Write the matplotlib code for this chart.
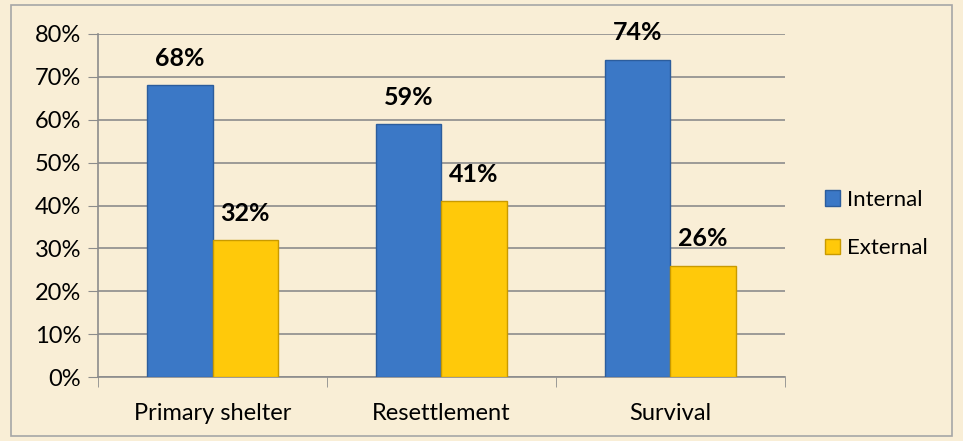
import numpy as np
import matplotlib.pyplot as plt
from matplotlib.patches import Rectangle

categories = ['Primary shelter', 'Resettlement', 'Survival']
internal = [68, 59, 74]
external = [32, 41, 26]

plt.rcParams['font.family'] = ['Lato', 'DejaVu Sans']

fig = plt.figure(figsize=(9.63, 4.41), dpi=100)
fig.patch.set_facecolor('#f9eed6')
# cadre gris autour du graphique
fig.add_artist(Rectangle((0.011, 0.012), 0.978, 0.976, transform=fig.transFigure,
                         fill=False, edgecolor='#a6a6a6', linewidth=1.2))

ax = fig.add_axes([0.1018, 0.145, 0.7133, 0.778])
ax.set_facecolor('none')

x = np.arange(len(categories))
w = 0.285
b1 = ax.bar(x - w / 2, internal, w, color='#3b78c6', edgecolor='#2c5d9c',
            linewidth=1, label='Internal', zorder=3)
b2 = ax.bar(x + w / 2, external, w, color='#ffc90a', edgecolor='#c99a00',
            linewidth=1, label='External', zorder=3)

# Étiquettes au-dessus des barres
for bars, vals in ((b1, internal), (b2, external)):
    for rect, v in zip(bars, vals):
        ax.annotate('%d%%' % v, (rect.get_x() + rect.get_width() / 2, v),
                    xytext=(0, 11), textcoords='offset points',
                    ha='center', va='bottom', fontsize=18, fontweight='bold')

ax.set_ylim(0, 80)
ax.set_yticks(range(0, 81, 10))
ax.set_yticklabels(['%d%%' % t for t in range(0, 81, 10)], fontsize=17)
ax.set_xlim(-0.5, 2.5)
ax.set_xticks(x)
ax.set_xticklabels(categories, fontsize=17)
ax.set_xticks([-0.5, 0.5, 1.5, 2.5], minor=True)
ax.tick_params(axis='x', which='major', length=0, pad=19)
ax.tick_params(axis='x', which='minor', length=7, color='#8c8c8c', direction='out')
ax.tick_params(axis='y', length=7, color='#8c8c8c', direction='out', pad=5)

ax.yaxis.grid(True, color='#8c8c8c', linewidth=1.2, zorder=0)
ax.set_axisbelow(True)
for s in ('top', 'right'):
    ax.spines[s].set_visible(False)
for s in ('left', 'bottom'):
    ax.spines[s].set_color('#8c8c8c')
    ax.spines[s].set_linewidth(1.2)

ax.legend(loc='center left', bbox_to_anchor=(1.045, 0.446), frameon=False,
          fontsize=16, handlelength=0.7, handleheight=0.7, labelspacing=1.3,
          handletextpad=0.3, borderaxespad=0)

plt.savefig('out.png', dpi=100, facecolor=fig.get_facecolor())
